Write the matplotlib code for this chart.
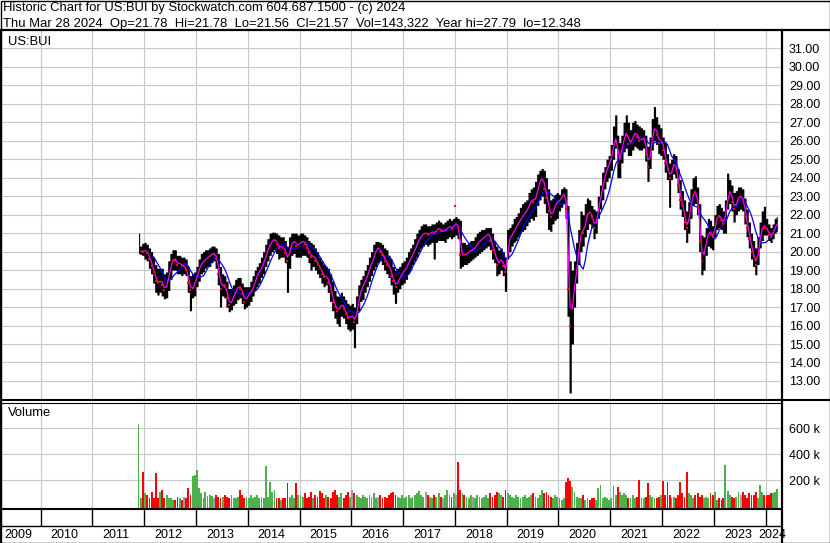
import matplotlib
matplotlib.use("Agg")
import matplotlib.pyplot as plt
import matplotlib.dates as mdates
import pandas as pd
from datetime import date

plt.rcParams['font.family'] = ['Liberation Sans', 'DejaVu Sans']

# half-month bars (first = 2nd half of Nov 2011, last = 2nd half of Mar 2024)
hi = [21.0, 20.3, 20.45,
      20.5, 20.4, 20.2, 20.0, 19.7, 19.3, 19.1, 19.1, 19.1, 18.8, 18.9, 19.5, 19.9, 20.1, 20.1, 19.8, 19.8, 19.7, 19.7, 19.6, 19.2, 18.7, 18.8, 18.9,
      19.2, 19.6, 19.9, 20.0, 20.1, 20.1, 20.2, 20.3, 20.3, 20.2, 19.9, 19.2, 18.8, 18.7, 18.4, 18.0, 18.0, 18.2, 18.5, 18.6, 18.6, 18.3, 18.1, 18.1,
      18.1, 18.4, 18.7, 19.0, 19.2, 19.4, 19.7, 20.0, 20.4, 20.7, 21.0, 21.05, 21.05, 21.0, 20.9, 20.8, 20.8, 20.6, 20.3, 20.8, 21.0, 21.0, 21.0, 20.9,
      21.0, 21.0, 20.9, 20.8, 20.6, 20.5, 20.4, 20.2, 20.0, 19.7, 19.5, 19.3, 19.2, 19.1, 18.8, 18.4, 17.9, 17.6, 17.6, 17.8, 17.6, 17.4, 17.2, 17.1,
      17.2, 17.0, 17.6, 18.2, 18.5, 18.7, 19.0, 19.3, 19.7, 20.0, 20.4, 20.55, 20.55, 20.5, 20.4, 20.2, 20.1, 19.8, 19.6, 19.2, 19.0, 19.1, 19.2, 19.4,
      19.5, 19.7, 20.0, 20.2, 20.4, 20.7, 21.0, 21.2, 21.4, 21.5, 21.5, 21.4, 21.4, 21.5, 21.5, 21.6, 21.7, 21.6, 21.5, 21.6, 21.7, 21.8, 21.7, 21.8,
      21.9, 21.8, 21.7, 20.5, 20.5, 20.4, 20.5, 20.6, 20.6, 20.8, 21.0, 21.1, 21.2, 21.2, 21.3, 21.3, 21.3, 21.0, 20.6, 20.3, 20.1, 20.2, 20.0, 19.7,
      21.2, 21.3, 21.5, 21.8, 21.9, 22.1, 22.4, 22.6, 22.7, 22.8, 23.2, 23.4, 23.5, 23.8, 24.2, 24.4, 24.5, 24.4, 24.0, 23.4, 22.8, 22.9, 23.1, 23.2,
      23.1, 23.4, 23.5, 23.4, 22.5, 19.5, 19.0, 19.5, 20.5, 21.2, 22.2, 22.0, 22.6, 22.9, 22.8, 22.5, 22.3, 22.2, 23.0, 23.6, 24.3, 24.6, 25.0, 25.2,
      25.8, 26.8, 27.4, 26.3, 25.9, 26.3, 27.0, 27.4, 27.0, 26.6, 27.0, 27.1, 26.9, 26.8, 26.7, 26.6, 26.3, 25.7, 26.2, 27.2, 27.85, 27.3, 26.9, 26.7,
      26.2, 25.9, 25.3, 24.8, 25.0, 25.3, 25.2, 24.5, 23.9, 23.3, 22.8, 22.2, 22.7, 23.4, 24.0, 24.1, 23.5, 22.6, 20.9, 20.8, 21.3, 21.8, 21.7, 21.4,
      22.0, 22.5, 22.6, 22.4, 22.2, 22.8, 24.25, 23.9, 23.6, 23.2, 23.3, 23.5, 23.5, 23.4, 22.9, 22.3, 21.6, 21.0, 20.6, 20.2, 20.8, 21.6, 22.2, 22.45,
      21.8, 21.5, 21.3, 21.5, 21.8, 21.9]

lo = [19.9, 19.85, 19.8,
      19.6, 19.5, 19.1, 18.8, 18.3, 17.8, 17.65, 17.8, 17.6, 17.45, 17.5, 17.9, 18.5, 19.0, 19.0, 18.8, 18.8, 18.7, 18.8, 18.7, 17.8, 16.8, 17.5, 17.6,
      18.1, 18.4, 18.8, 18.9, 19.1, 19.2, 19.2, 19.4, 19.5, 19.1, 18.2, 17.0, 17.6, 17.5, 17.0, 16.75, 16.85, 17.1, 17.2, 17.4, 17.5, 17.2, 16.9, 17.0,
      17.1, 17.3, 17.6, 17.9, 18.1, 18.3, 18.6, 18.8, 19.2, 19.5, 19.8, 20.0, 20.1, 19.9, 19.6, 19.7, 19.7, 19.4, 17.8, 19.1, 19.8, 19.9, 19.7, 19.7,
      19.7, 19.8, 19.8, 19.7, 19.4, 19.0, 19.2, 19.0, 18.8, 18.6, 18.3, 18.1, 18.2, 17.8, 17.3, 16.8, 16.4, 16.1, 15.95, 16.5, 16.4, 16.1, 15.8, 15.7,
      15.8, 14.8, 16.1, 16.8, 17.3, 17.4, 17.8, 18.1, 18.4, 18.7, 19.0, 19.2, 19.4, 19.5, 19.3, 19.0, 18.8, 18.6, 18.2, 17.7, 17.2, 17.8, 18.0, 18.2,
      18.3, 18.5, 18.8, 19.0, 19.3, 19.5, 19.7, 20.0, 20.2, 20.3, 20.4, 20.3, 20.4, 20.5, 19.6, 20.5, 20.6, 20.6, 20.6, 20.5, 20.7, 20.8, 20.7, 20.8,
      20.9, 20.7, 19.1, 19.2, 19.3, 19.3, 19.4, 19.5, 19.6, 19.7, 19.8, 19.9, 20.0, 20.1, 20.2, 20.3, 20.1, 19.6, 19.4, 18.7, 18.8, 19.0, 18.7, 17.85,
      19.6, 20.0, 20.3, 20.5, 20.6, 20.8, 21.0, 21.1, 21.2, 21.4, 21.6, 21.8, 21.7, 21.9, 22.5, 22.8, 23.0, 22.6, 22.1, 21.2, 21.1, 21.5, 21.7, 21.8,
      22.2, 22.4, 22.6, 21.8, 16.5, 12.35, 15.0, 17.0, 18.3, 19.3, 20.0, 20.3, 20.8, 21.2, 21.5, 21.3, 20.7, 21.0, 21.8, 22.3, 22.8, 23.4, 23.8, 24.0,
      24.4, 25.0, 25.6, 24.0, 24.0, 24.8, 25.4, 25.6, 25.2, 25.2, 25.5, 25.7, 25.6, 25.5, 25.5, 25.6, 24.9, 23.8, 24.5, 25.5, 26.0, 25.8, 25.3, 25.2,
      25.0, 24.3, 23.9, 22.4, 23.9, 24.2, 24.0, 23.2, 22.3, 21.9, 21.2, 20.5, 21.0, 21.8, 22.5, 22.6, 22.0, 20.0, 18.75, 19.0, 19.8, 20.3, 20.2, 20.1,
      20.8, 21.2, 21.3, 21.2, 21.0, 21.0, 22.3, 22.6, 22.2, 21.6, 22.0, 22.2, 22.3, 22.2, 21.5, 20.8, 20.2, 19.6, 19.2, 18.75, 19.3, 20.2, 20.6, 20.9,
      20.9, 20.6, 20.5, 20.7, 21.0, 21.1]

cl = [20.0, 20.05, 20.0,
      20.1, 19.9, 19.6, 19.2, 18.9, 18.4, 18.3, 18.5, 18.2, 17.9, 18.3, 18.9, 19.4, 19.7, 19.5, 19.3, 19.4, 19.2, 19.2, 19.0, 18.3, 17.9, 18.1, 18.4,
      18.8, 19.2, 19.4, 19.5, 19.6, 19.7, 19.8, 19.9, 19.9, 19.6, 18.8, 18.0, 18.3, 18.1, 17.5, 17.1, 17.4, 17.7, 17.9, 18.2, 18.0, 17.7, 17.3, 17.6,
      17.7, 17.9, 18.2, 18.5, 18.8, 19.0, 19.2, 19.5, 19.9, 20.2, 20.5, 20.6, 20.7, 20.4, 20.2, 20.3, 20.2, 19.9, 19.5, 20.3, 20.5, 20.6, 20.3, 20.4,
      20.5, 20.6, 20.4, 20.2, 19.9, 19.7, 19.8, 19.5, 19.3, 19.1, 18.8, 18.6, 18.7, 18.3, 17.9, 17.3, 17.0, 16.8, 17.0, 17.2, 16.9, 16.6, 16.4, 16.5,
      16.5, 16.2, 17.0, 17.6, 18.0, 18.2, 18.5, 18.8, 19.2, 19.5, 19.8, 20.2, 20.2, 20.0, 19.8, 19.5, 19.3, 19.2, 18.7, 18.4, 18.1, 18.5, 18.6, 18.9,
      19.0, 19.2, 19.5, 19.7, 19.9, 20.2, 20.5, 20.7, 20.9, 21.0, 21.0, 20.9, 21.0, 21.1, 21.0, 21.2, 21.3, 21.1, 21.1, 21.2, 21.3, 21.4, 21.2, 21.5,
      21.5, 21.3, 19.8, 19.9, 19.8, 19.9, 20.0, 20.1, 20.1, 20.3, 20.5, 20.6, 20.7, 20.8, 20.9, 21.0, 20.6, 20.1, 19.9, 19.3, 19.5, 19.6, 19.2, 18.9,
      20.6, 20.8, 21.0, 21.2, 21.4, 21.6, 21.8, 22.0, 22.1, 22.3, 22.6, 22.9, 22.7, 23.0, 23.6, 23.9, 24.0, 23.4, 22.9, 22.2, 21.9, 22.3, 22.6, 22.7,
      22.8, 23.0, 23.2, 22.3, 18.0, 16.0, 17.8, 18.3, 19.5, 20.5, 21.3, 21.0, 21.8, 22.2, 22.1, 21.8, 21.3, 21.8, 22.6, 23.1, 23.8, 24.2, 24.6, 24.8,
      25.3, 26.0, 26.2, 24.8, 25.2, 25.8, 26.3, 26.5, 25.8, 26.0, 26.3, 26.5, 26.2, 26.0, 26.1, 26.2, 25.3, 24.6, 25.6, 26.5, 26.8, 26.3, 25.9, 26.1,
      25.5, 24.8, 24.4, 24.0, 24.5, 24.9, 24.4, 23.6, 22.8, 22.5, 21.6, 21.3, 22.1, 22.8, 23.3, 23.2, 22.4, 20.6, 19.5, 20.2, 20.7, 21.2, 20.9, 20.8,
      21.6, 22.0, 21.9, 21.7, 21.5, 22.3, 23.2, 23.3, 22.7, 22.3, 22.8, 23.0, 23.0, 22.8, 21.9, 21.3, 20.7, 20.0, 19.7, 19.3, 20.3, 21.0, 21.5, 21.3,
      21.2, 20.9, 20.8, 21.2, 21.4, 21.57]

# volume in thousands, same half-month slots
vol_k = [630, 60, 261,
         100, 87, 61, 112, 60, 254, 62, 112, 125, 61, 87, 60, 61, 50, 48, 70, 61, 48, 70, 60, 138, 87, 233, 240,
         279, 138, 100, 61, 112, 80, 87, 80, 61, 87, 75, 61, 70, 87, 75, 61, 87, 61, 61, 70, 125, 87, 61, 70,
         61, 87, 61, 70, 87, 61, 70, 61, 310, 70, 185, 112, 125, 61, 61, 50, 61, 61, 177, 70, 87, 61, 177, 87,
         87, 70, 100, 61, 75, 110, 61, 87, 70, 120, 100, 61, 87, 70, 61, 110, 125, 87, 70, 100, 61, 87, 110, 75,
         125, 100, 87, 70, 61, 87, 70, 61, 87, 75, 100, 61, 70, 87, 61, 75, 61, 87, 100, 112, 87, 70, 61, 87,
         61, 70, 87, 61, 75, 87, 100, 120, 87, 70, 112, 87, 70, 61, 87, 70, 100, 75, 61, 87, 125, 87, 70, 100,
         87, 340, 125, 100, 87, 70, 61, 87, 70, 61, 87, 75, 61, 70, 87, 61, 100, 70, 87, 112, 100, 87, 75, 125,
         100, 87, 70, 61, 87, 70, 61, 75, 87, 61, 70, 87, 100, 70, 61, 87, 125, 100, 112, 87, 70, 61, 87, 75,
         61, 50, 61, 185, 215, 195, 151, 112, 70, 61, 61, 87, 50, 61, 50, 61, 61, 50, 138, 164, 61, 70, 61, 50,
         61, 156, 87, 145, 112, 87, 100, 87, 61, 61, 87, 61, 70, 202, 61, 61, 70, 177, 87, 75, 61, 61, 70, 87,
         195, 87, 185, 87, 61, 70, 61, 87, 185, 100, 75, 266, 100, 87, 61, 87, 100, 75, 87, 61, 70, 61, 100, 87,
         112, 50, 61, 50, 61, 318, 118, 87, 70, 61, 70, 112, 87, 112, 87, 61, 100, 87, 87, 112, 61, 164, 112, 87,
         87, 87, 100, 100, 112, 133]

stray_dates = [date(2018, 1, 4)]
stray_vals = [22.48]

grid_years = list(range(2010, 2025))
label_years = list(range(2009, 2025))
price_ticks = list(range(13, 32))
vol_ticks = [200, 400, 600]

header1 = "Historic Chart for US:BUI by Stockwatch.com 604.687.1500 - (c) 2024"
header2 = "Thu Mar 28 2024  Op=21.78  Hi=21.78  Lo=21.56  Cl=21.57  Vol=143,322  Year hi=27.79  lo=12.348"

# slot dates: 8th and 23rd of each month
slots = []
for y in range(2011, 2025):
    for m in range(1, 13):
        for d in (8, 23):
            dt = date(y, m, d)
            if date(2011, 11, 16) <= dt <= date(2024, 3, 28):
                slots.append(dt)
assert len(slots) == len(hi) == len(lo) == len(cl) == len(vol_k)

W, H = 830, 543
fig = plt.figure(figsize=(W / 100, H / 100), dpi=100)
fig.patch.set_facecolor('white')


def box(x0, y0, x1, y1):
    return [x0 / W, 1 - y1 / H, (x1 - x0) / W, (y1 - y0) / H]


xmin, xmax = date(2009, 3, 28), date(2024, 4, 25)
grid_col = '#c8c8c8'
fs = 9
fs_txt = 9.4

# ---- price panel
ax = fig.add_axes(box(1, 31, 782, 400))
ax.set_xlim(xmin, xmax)
ax.set_ylim(11.97, 31.94)
ax.set_xticks([date(y, 1, 1) for y in grid_years])
ax.set_yticks(price_ticks)
ax.grid(True, color=grid_col, lw=0.8)
ax.set_axisbelow(True)
ax.yaxis.tick_right()
ax.tick_params(length=0, labelbottom=False, pad=5, labelsize=fs)
ax.yaxis.set_major_formatter(plt.FormatStrFormatter('%.2f'))
for s in ax.spines.values():
    s.set_visible(False)

ax.fill_between(slots, lo, hi, step='mid', color='black', lw=0, zorder=2)
close = pd.Series(cl)
ax.plot(slots, close.rolling(8).mean(), color='#0000ff', lw=0.9, zorder=3)
ax.plot(slots, close.rolling(2).mean(), color='#ff00ff', lw=0.9, zorder=4)
down = [i for i in range(1, len(cl)) if cl[i] < cl[i - 1]]
ax.scatter([slots[i] for i in down], [cl[i] for i in down], marker='s', s=2.5,
           color='red', lw=0, zorder=5)
ax.scatter(stray_dates, stray_vals, marker='s', s=3, color='red', lw=0, zorder=5)
ax.text(7 / 781, 1 - 11 / 369, "US:BUI", transform=ax.transAxes, fontsize=fs_txt,
        va='center', ha='left')

# ---- volume panel
av = fig.add_axes(box(1, 402, 782, 509))
vbot = -20.8
av.set_xlim(xmin, xmax)
av.set_ylim(vbot, 802)
av.set_xticks([date(y, 1, 1) for y in grid_years])
av.set_yticks(vol_ticks)
av.set_yticklabels([f"{v} k" for v in vol_ticks])
av.grid(True, color=grid_col, lw=0.8)
av.set_axisbelow(True)
av.yaxis.tick_right()
av.tick_params(length=0, labelbottom=False, pad=5, labelsize=fs)
for s in av.spines.values():
    s.set_visible(False)
colors = ['#4cb04c']
for i in range(1, len(cl)):
    if cl[i] > cl[i - 1]:
        colors.append('#4cb04c')
    elif cl[i] < cl[i - 1]:
        colors.append('#ff0000')
    else:
        colors.append('#a0a0a0')
av.bar(slots, [v - vbot for v in vol_k], bottom=vbot, width=13, color=colors, lw=0)
av.text(7 / 781, 1 - 11 / 107, "Volume", transform=av.transAxes, fontsize=fs_txt,
        va='center', ha='left')

# ---- date strip
ad = fig.add_axes(box(1, 509, 782, 543))
ad.set_xlim(xmin, xmax)
ad.set_ylim(34, 0)
ad.axis('off')
ad.vlines([date(y, 1, 1) for y in grid_years], 0, 17, color='black', lw=1.0)
px_day = 781 / (mdates.date2num(xmax) - mdates.date2num(xmin))
for y in label_years:
    a = max(mdates.date2num(date(y, 1, 1)), mdates.date2num(xmin))
    b = min(mdates.date2num(date(y + 1, 1, 1)), mdates.date2num(xmax))
    ad.text((a + b) / 2 - 2 / px_day, 25.5, str(y), fontsize=fs, ha='center',
            va='center', clip_on=False)

# ---- frame lines and header
fr = fig.add_axes([0, 0, 1, 1])
fr.set_xlim(0, W)
fr.set_ylim(H, 0)
fr.axis('off')
k = dict(color='black', solid_capstyle='butt')
fr.plot([0, W], [30, 30], lw=1.6, **k)
fr.plot([781.5, 781.5], [30, H], lw=1.6, **k)
fr.plot([0, W], [400, 400], lw=1.5, **k)
fr.plot([0, 782], [402.5, 402.5], lw=0.8, **k)
fr.plot([0, 782], [509, 509], lw=1.5, **k)
fr.plot([0, 782], [526, 526], lw=1.0, **k)
fr.plot([0.5, 829.5, 829.5, 0.5, 0.5], [0.5, 0.5, 542.5, 542.5, 0.5], lw=1.0, **k)
fr.plot([0.8, 0.8], [30, H], lw=1.4, **k)
fr.text(3, 11.5, header1, fontsize=fs_txt, va='baseline', ha='left')
fr.text(3, 27, header2, fontsize=fs_txt, va='baseline', ha='left')

fig.savefig("out.png", dpi=100)
